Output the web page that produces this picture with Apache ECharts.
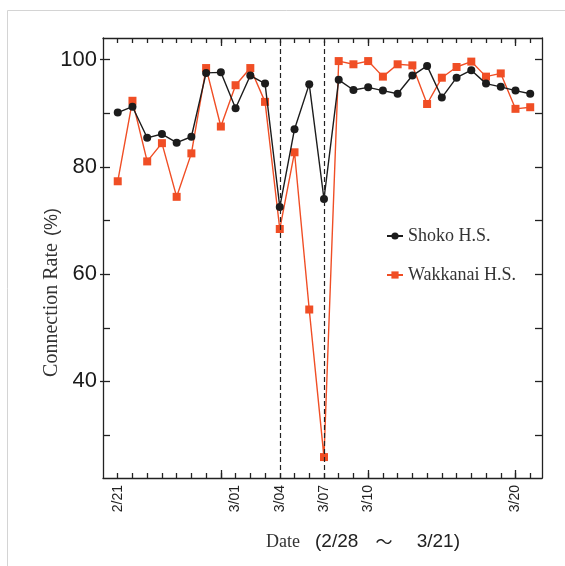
<!DOCTYPE html>
<html>
<head>
<meta charset="utf-8">
<script src="https://cdn.jsdelivr.net/npm/echarts@6/dist/echarts.min.js"></script>
<style>
  html, body { margin: 0; background: #fff; }
  #chart { width: 565px; height: 566px; }
</style>
</head>
<body>
<div id="chart"></div>
<script>
// dates, one per day (index = day number from 2/21)
const dates = ['2/21', '2/22', '2/23', '2/24', '2/25', '2/26', '2/27', '2/28',
  '3/01', '3/02', '3/03', '3/04', '3/05', '3/06', '3/07', '3/08', '3/09', '3/10',
  '3/11', '3/12', '3/13', '3/14', '3/15', '3/16', '3/17', '3/18', '3/19', '3/20', '3/21'];
const labeledDates = ['2/21', '3/01', '3/04', '3/07', '3/10', '3/20'];
const longTickDates = ['2/28', '3/10', '3/20'];
const dashedDates = ['3/04', '3/07'];

const shoko = [90.1, 91.2, 85.4, 86.1, 84.5, 85.6, 97.5, 97.6, 90.9, 97.0, 95.5, 72.5, 87.0, 95.4, 74.0,
  96.2, 94.3, 94.8, 94.2, 93.6, 97.0, 98.8, 92.9, 96.6, 98.0, 95.5, 94.9, 94.2, 93.6];
const wakkanai = [77.3, 92.3, 81.0, 84.4, 74.4, 82.5, 98.4, 87.5, 95.2, 98.4, 92.1, 68.4, 82.7, 53.4, 25.9,
  99.7, 99.1, 99.7, 96.8, 99.1, 98.9, 91.7, 96.6, 98.6, 99.6, 96.8, 97.4, 90.8, 91.1];

const yTicks = [30, 40, 50, 60, 70, 80, 90, 100];
const yLabels = [40, 60, 80, 100];

const dayIdx = d => dates.indexOf(d);
const allDays = dates.map((d, i) => i);

const black = '#1c1c1c';
const red = '#f04e25';
const axisLineStyle = { color: '#222', width: 1.3 };

function plainX(position, ticks, len, showLine) {
  return {
    type: 'value', position: position, min: -1, max: 28.8,
    axisLine: { show: showLine, onZero: false, lineStyle: axisLineStyle },
    axisTick: { show: true, inside: true, length: len, customValues: ticks, lineStyle: axisLineStyle },
    axisLabel: { show: false },
    splitLine: { show: false }
  };
}

const chart = echarts.init(document.getElementById('chart'));
chart.setOption({
  animation: false,
  backgroundColor: '#fff',
  grid: { left: 103, top: 38, right: 23, bottom: 88, containLabel: false },
  legend: {
    data: ['Shoko H.S.', 'Wakkanai H.S.'],
    orient: 'vertical',
    left: 381, top: 222,
    itemGap: 21, itemWidth: 16, itemHeight: 9,
    textStyle: { fontFamily: 'Liberation Serif', fontSize: 18, color: '#333' }
  },
  xAxis: [
    {
      type: 'value', position: 'bottom', min: -1, max: 28.8,
      axisLine: { show: true, onZero: false, lineStyle: axisLineStyle },
      axisTick: { show: true, inside: true, length: 5, customValues: allDays, lineStyle: axisLineStyle },
      axisLabel: {
        customValues: labeledDates.map(dayIdx),
        formatter: v => dates[v],
        rotate: 90, margin: 7,
        fontFamily: 'Liberation Sans', fontSize: 14, color: '#222'
      },
      splitLine: { show: false }
    },
    plainX('bottom', longTickDates.map(dayIdx), 8, false),
    plainX('top', allDays, 5, true),
    plainX('top', longTickDates.map(dayIdx), 8, false)
  ],
  yAxis: [
    {
      type: 'value', position: 'left', min: 22, max: 104,
      axisLine: { show: true, onZero: false, lineStyle: axisLineStyle },
      axisTick: { show: true, inside: true, length: 7, customValues: yTicks, lineStyle: axisLineStyle },
      axisLabel: {
        customValues: yLabels, margin: 6,
        fontFamily: 'Liberation Sans', fontSize: 22, color: '#1a1a1a'
      },
      splitLine: { show: false }
    },
    {
      type: 'value', position: 'left', min: 22, max: 104,
      axisLine: { show: false, onZero: false },
      axisTick: { show: true, inside: false, length: 3, customValues: yLabels, lineStyle: axisLineStyle },
      axisLabel: { show: false },
      splitLine: { show: false }
    },
    {
      type: 'value', position: 'right', min: 22, max: 104,
      axisLine: { show: true, onZero: false, lineStyle: axisLineStyle },
      axisTick: { show: true, inside: true, length: 7, customValues: yTicks, lineStyle: axisLineStyle },
      axisLabel: { show: false },
      splitLine: { show: false }
    }
  ],
  series: [
    {
      name: 'Wakkanai H.S.',
      type: 'line', z: 2,
      data: wakkanai.map((v, i) => [i, v]),
      symbol: 'rect', symbolSize: 8,
      color: red,
      itemStyle: { color: red },
      lineStyle: { color: red, width: 1.4 }
    },
    {
      name: 'Shoko H.S.',
      type: 'line', z: 3,
      data: shoko.map((v, i) => [i, v]),
      symbol: 'circle', symbolSize: 8,
      color: black,
      itemStyle: { color: black },
      lineStyle: { color: black, width: 1.4 },
      markLine: {
        silent: true, symbol: 'none', animation: false,
        label: { show: false },
        lineStyle: { color: '#222', type: [5, 3], width: 1.2 },
        data: dashedDates.map(d => ({ xAxis: dayIdx(d) }))
      }
    }
  ],
  graphic: [
    // faint frame lines on the top and left of the picture
    { type: 'line', shape: { x1: 7.5, y1: 10.5, x2: 565, y2: 10.5 }, style: { stroke: '#d4d4d4', lineWidth: 1 } },
    { type: 'line', shape: { x1: 7.5, y1: 10.5, x2: 7.5, y2: 566 }, style: { stroke: '#d4d4d4', lineWidth: 1 } },
    // y axis name
    {
      type: 'text', x: 52, y: 310, rotation: Math.PI / 2,
      style: { text: 'Connection Rate', font: '20px "Liberation Serif"', fill: '#333', align: 'center', verticalAlign: 'middle' }
    },
    {
      type: 'text', x: 52, y: 222, rotation: Math.PI / 2,
      style: { text: '(%)', font: '18px "Liberation Sans"', fill: '#333', align: 'center', verticalAlign: 'middle' }
    },
    // x axis name
    {
      type: 'text', x: 266, y: 542,
      style: { text: 'Date', font: '18px "Liberation Serif"', fill: '#333', align: 'left', verticalAlign: 'middle' }
    },
    {
      type: 'text', x: 315, y: 542,
      style: { text: '(2/28', font: '19px "Liberation Sans"', fill: '#222', align: 'left', verticalAlign: 'middle' }
    },
    {
      type: 'text', x: 384, y: 542,
      style: { text: '〜', font: '17px "Noto Sans CJK JP"', fill: '#222', align: 'center', verticalAlign: 'middle' }
    },
    {
      type: 'text', x: 460, y: 542,
      style: { text: '3/21)', font: '19px "Liberation Sans"', fill: '#222', align: 'right', verticalAlign: 'middle' }
    }
  ]
});
</script>
</body>
</html>
